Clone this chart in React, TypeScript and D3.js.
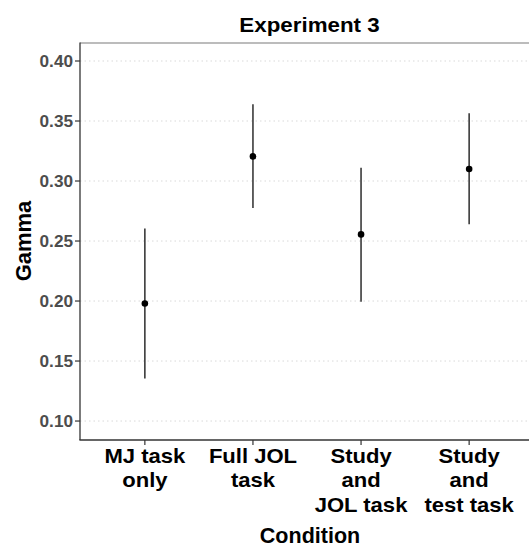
import React from "react";
import * as d3 from "d3";

const conditions = [
  ["MJ task", "only"],
  ["Full JOL", "task"],
  ["Study", "and", "JOL task"],
  ["Study", "and", "test task"],
];
const gammaMeans = [0.198, 0.3205, 0.2555, 0.31];
const ciLower = [0.1355, 0.2775, 0.1995, 0.264];
const ciUpper = [0.2605, 0.364, 0.311, 0.3565];
const yTicks = [0.1, 0.15, 0.2, 0.25, 0.3, 0.35, 0.4];

const W = 529;
const H = 548;
const left = 80;
const right = 534;
const top = 43;
const bottom = 440;
const font = "Liberation Sans, Arial, Helvetica, sans-serif";

// Bold label, slightly widened horizontally around its anchor point
function WideText(props: { x: number; y: number; size: number; sx: number; children: React.ReactNode; fill?: string }) {
  const { x, y, size, sx, children, fill = "#000" } = props;
  return (
    <g transform={`translate(${x},${y}) scale(${sx},1)`}>
      <text x={0} y={0} textAnchor="middle" fontFamily={font} fontWeight="bold" fontSize={size} fill={fill}>
        {children}
      </text>
    </g>
  );
}

export default function App() {
  const x = d3
    .scaleBand<number>()
    .domain(conditions.map((_, i) => i))
    .range([left, right])
    .paddingOuter(0.1)
    .paddingInner(0);
  const y = d3.scaleLinear().domain([0.0842, 0.415]).range([bottom, top]);
  const cx = (i: number) => (x(i) as number) + x.bandwidth() / 2;

  return (
    <svg width={W} height={H} style={{ position: "absolute", left: 0, top: 0, background: "#fff" }}>
      <WideText x={309.5} y={31.5} size={20.5} sx={1.09}>
        Experiment 3
      </WideText>
      {yTicks.map((t) => (
        <line key={"g" + t} x1={left} x2={right} y1={y(t)} y2={y(t)} stroke="#d9d9d9" strokeWidth={1} strokeDasharray="1.5,3" />
      ))}
      <line x1={left} x2={right} y1={top} y2={top} stroke="#a6a6a6" strokeWidth={1.5} />
      <line x1={left} x2={left} y1={top - 0.5} y2={bottom} stroke="#333" strokeWidth={1.3} />
      <line x1={left - 0.6} x2={right} y1={bottom} y2={bottom} stroke="#333" strokeWidth={1.3} />
      {yTicks.map((t) => (
        <g key={"t" + t}>
          <line x1={left - 5} x2={left} y1={y(t)} y2={y(t)} stroke="#333" strokeWidth={1.2} />
          <text x={left - 7} y={y(t)} dy="0.36em" textAnchor="end" fontFamily={font} fontWeight="bold" fontSize={17.2} fill="#4d4d4d">
            {d3.format(".2f")(t)}
          </text>
        </g>
      ))}
      {conditions.map((lines, i) => (
        <g key={"x" + i}>
          <line x1={cx(i)} x2={cx(i)} y1={bottom} y2={bottom + 5} stroke="#333" strokeWidth={1.2} />
          {lines.map((l, j) => (
            <WideText key={j} x={cx(i)} y={462.5 + j * 24.5} size={21} sx={1.05}>
              {l}
            </WideText>
          ))}
        </g>
      ))}
      {gammaMeans.map((m, i) => (
        <g key={"p" + i}>
          <line x1={cx(i)} x2={cx(i)} y1={y(ciLower[i])} y2={y(ciUpper[i])} stroke="#3a3a3a" strokeWidth={1.6} />
          <circle cx={cx(i)} cy={y(m)} r={3.3} fill="#000" />
        </g>
      ))}
      <text x={310} y={543} textAnchor="middle" fontFamily={font} fontWeight="bold" fontSize={21.5} fill="#000">
        Condition
      </text>
      <text transform={`translate(31,241) rotate(-90)`} textAnchor="middle" fontFamily={font} fontWeight="bold" fontSize={22} fill="#000">
        Gamma
      </text>
    </svg>
  );
}
